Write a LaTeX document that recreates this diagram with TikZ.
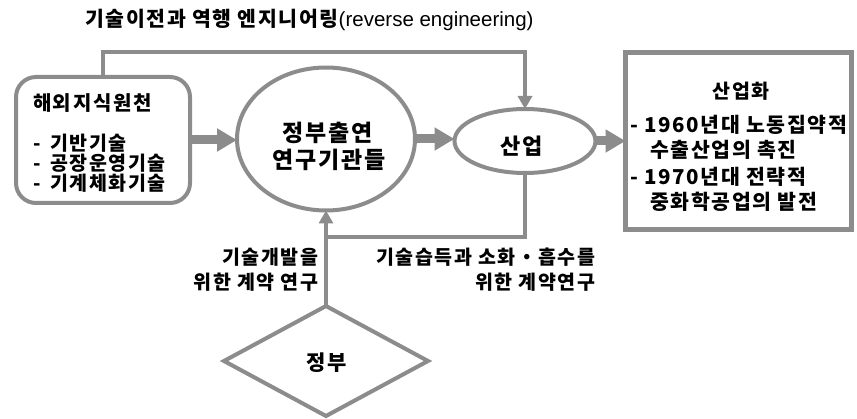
\documentclass[tikz,border=0pt]{standalone}
\usepackage{fontspec}
\setmainfont{Noto Sans CJK KR}[LetterSpace=8]
\newfontfamily\latinfont{Liberation Sans}
\usetikzlibrary{shapes.geometric,arrows.meta}
\definecolor{lg}{gray}{0.55}
\begin{document}
\begin{tikzpicture}[x=1pt,y=-1pt,
  every node/.style={inner sep=0pt,outer sep=0pt},
  shapebd/.style={draw=lg,line width=4pt,fill=white},
  gline/.style={draw=lg,line width=4pt},
  thinarrow/.style={gline,-{Triangle[length=13pt,width=14pt]}},
  fat/.style={draw=lg,line width=9pt,-{Triangle[length=20pt,width=22pt]}},
  fs/.style={font=\fontsize{#1pt}{#1pt}\selectfont\bfseries},
]
\path[use as bounding box] (0,0) rectangle (857,419);

% shapes
\node[shapebd,rounded corners=20pt,minimum width=174pt,minimum height=126pt] (src) at (103,140) {};
\node[shapebd,ellipse,minimum width=178pt,minimum height=143pt] (gri) at (326,139) {};
\node[shapebd,ellipse,minimum width=141pt,minimum height=64pt] (ind) at (525,141) {};
\node[shapebd,line width=5pt,minimum width=226pt,minimum height=177pt] (res) at (738.5,141) {};
\node[shapebd,diamond,aspect=1.857,minimum width=204pt,minimum height=110pt] (gov) at (326,361) {};

% helper coordinates
\coordinate (topy) at (0,52);
\coordinate (jn) at (326,237);

% connectors
\draw[thinarrow] (src.north) -- (src.north |- topy) -| (ind.north);
\draw[gline] (ind.south) |- (jn);
\draw[thinarrow] (gov.north) -- (gri.south);
\draw[fat] (src.east) -- (src.east -| gri.west);
\draw[fat] (gri.east) -- (gri.east -| ind.west);
\draw[fat] (ind.east) -- (ind.east -| res.west);

% texts
\node[fs=20.5,anchor=west] (title) at (85,20) {기술이전과 역행 엔지니어링{\latinfont\fontsize{20.5pt}{20.5pt}\selectfont\mdseries(reverse engineering)}};

\node[fs=20,anchor=west] (srcT) at (33,103) {해외지식원천};
\node[fs=19.5,anchor=west] (s1) at (33,143) {-\hspace{4pt} 기반기술};
\node[fs=19.5,anchor=west] (s2) at (33,163) {-\hspace{4pt} 공장운영기술};
\node[fs=19.5,anchor=west] (s3) at (33,183) {-\hspace{4pt} 기계체화기술};

\node[fs=23] (g1) at (328,133) {정부출연};
\node[fs=23] (g2) at (329,160) {연구기관들};

\node[fs=22] (indT) at (522,146) {산업};

\node[fs=19.5] (resT) at (741,91) {산업화};
\node[fs=20.5,anchor=west] (r1) at (630,125) {- 1960년대 노동집약적};
\node[fs=20.5,anchor=west] (r2) at (650,150) {수출산업의 촉진};
\node[fs=20.5,anchor=west] (r3) at (630,177) {- 1970년대 전략적};
\node[fs=20.5,anchor=west] (r4) at (650,202) {중화학공업의 발전};

\node[fs=21] (govT) at (327,363) {정부};

\node[fs=19.5,anchor=east] (l1) at (318,257) {기술개발을};
\node[fs=19.5,anchor=east] (l2) at (318,282) {위한 계약 연구};
\node[fs=19.5,anchor=east] (l3) at (595,257) {기술습득과 소화・흡수를};
\node[fs=19.5,anchor=east] (l4) at (595,282) {위한 계약연구};
\end{tikzpicture}
\end{document}
